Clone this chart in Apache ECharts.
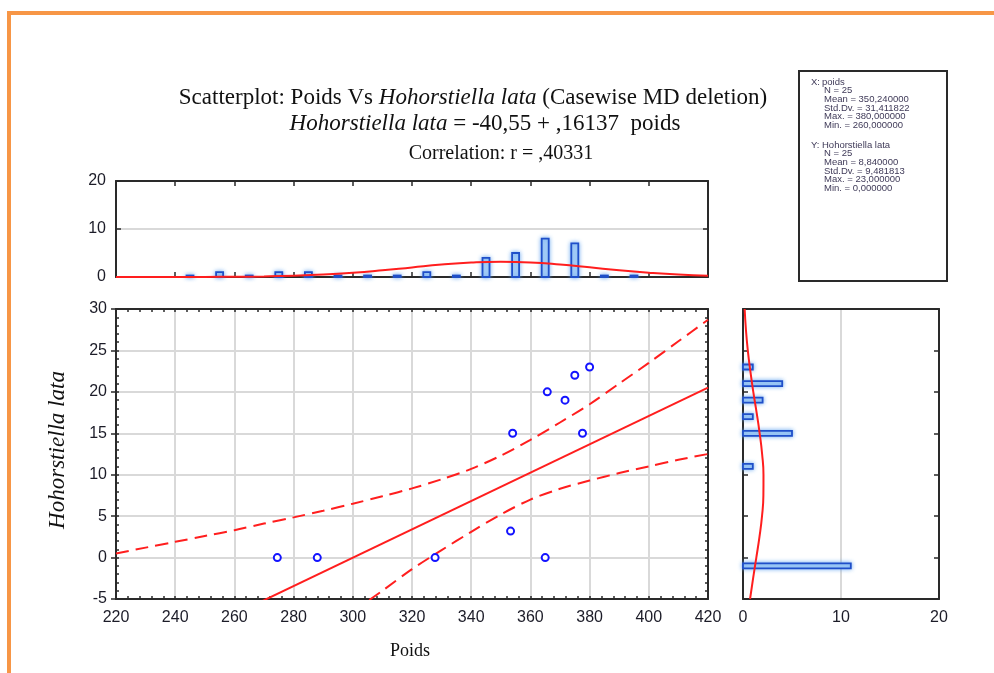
<!DOCTYPE html>
<html><head><meta charset="utf-8">
<script src="https://cdn.jsdelivr.net/npm/echarts/dist/echarts.min.js"></script>
<style>html,body{margin:0;padding:0;background:#fff}#c{width:994px;height:673px}</style>
</head><body><div id="c"></div>
<script>
// ---- data ----
const scatterX = [274.5, 288, 327.8, 353.3, 354, 365, 365.7, 371.7, 375, 377.6, 380];
const scatterY = [0, 0, 0, 3.2, 15, 0, 20, 19, 22, 15, 23];
const regX = [220, 420];
const regY = [-13.7, 20.5];
const upperX = [220, 230, 240, 250, 260, 270, 280, 290, 300, 310, 320, 330, 340, 350, 360, 370, 380, 390, 400, 410, 420];
const upperY = [0.5, 1.2, 1.9, 2.6, 3.3, 4.1, 4.85, 5.65, 6.5, 7.4, 8.35, 9.45, 10.7, 12.3, 14.2, 16.3, 18.5, 21.0, 23.5, 26.1, 28.7];
const lowerX = [300, 310, 320, 330, 340, 350, 360, 370, 380, 390, 400, 410, 420];
const lowerY = [-6.5, -4.0, -1.4, 0.9, 3.1, 5.2, 7.0, 8.3, 9.3, 10.2, 11.0, 11.8, 12.5];
const xHistBins = [245, 255, 265, 275, 285, 295, 305, 315, 325, 335, 345, 355, 365, 375, 385, 395];
const xHistCounts = [0, 1, 0, 1, 1, 0, 0, 0, 1, 0, 4, 5, 8, 7, 0, 0];
const xCurveX = [220, 230, 240, 250, 260, 270, 280, 290, 300, 310, 320, 330, 340, 350, 360, 370, 380, 390, 400, 410, 420];
const xCurveY = [0, 0, 0.01, 0.02, 0.05, 0.12, 0.26, 0.5, 0.88, 1.4, 2.0, 2.58, 3.0, 3.17, 3.03, 2.6, 2.02, 1.41, 0.91, 0.52, 0.27];
const yHistBins = [-1, 11, 15, 17, 19, 21, 23];
const yHistCounts = [11, 1, 5, 1, 2, 4, 1];
const yCurveY = [-5, -2.5, 0, 2.5, 5, 7.5, 10, 12.5, 15, 17.5, 20, 22.5, 25, 27.5, 30];
const yCurveX = [0.72, 1.03, 1.36, 1.68, 1.94, 2.08, 2.09, 1.95, 1.70, 1.39, 1.05, 0.75, 0.49, 0.30, 0.17];
const statsX = ['N = 25', 'Mean = 350,240000', 'Std.Dv. = 31,411822', 'Max. = 380,000000', 'Min. = 260,000000'];
const statsY = ['N = 25', 'Mean = 8,840000', 'Std.Dv. = 9,481813', 'Max. = 23,000000', 'Min. = 0,000000'];

// ---- styles ----
const FRAME = '#2a2a2a';
const GRIDC = '#d9d9d9';
const RED = '#ff1e1e';
const SANS = 'Liberation Sans';
const SERIF = 'Liberation Serif';
const labelStyle = {fontFamily: SANS, fontSize: 16, color: '#1c1c28'};

function frameAxis(extra) {
  return Object.assign({
    type: 'value',
    axisLine: {show: true, onZero: false, lineStyle: {color: FRAME, width: 2}},
    axisTick: {show: true, inside: true, length: 5, lineStyle: {color: FRAME, width: 1.5}},
    minorTick: {show: false},
    axisLabel: {show: false},
    splitLine: {show: false}
  }, extra);
}
const minorT = {show: true, splitNumber: 5, length: 3, lineStyle: {color: FRAME, width: 1.5}};
const innerT = {show: true, inside: true, length: 3, lineStyle: {color: FRAME, width: 1.5}};

const chart = echarts.init(document.getElementById('c'), null, {renderer: 'canvas'});

const grids = [
  {left: 116, top: 309, width: 592, height: 290},
  {left: 116, top: 181, width: 592, height: 96},
  {left: 743, top: 309, width: 196, height: 290}
];

const xAxes = [
  frameAxis({gridIndex: 0, position: 'bottom', min: 220, max: 420, interval: 20,
    axisLabel: Object.assign({show: true, margin: 11}, labelStyle),
    axisTick: innerT, minorTick: minorT,
    splitLine: {show: true, lineStyle: {color: GRIDC, width: 2}}}),
  frameAxis({gridIndex: 0, position: 'top', min: 220, max: 420, interval: 20,
    axisTick: innerT, minorTick: minorT}),
  frameAxis({gridIndex: 1, position: 'bottom', min: 220, max: 420, interval: 20}),
  frameAxis({gridIndex: 1, position: 'top', min: 220, max: 420, interval: 20}),
  frameAxis({gridIndex: 2, position: 'bottom', min: 0, max: 20, interval: 10,
    axisTick: {show: false},
    axisLabel: Object.assign({show: true, margin: 11}, labelStyle),
    splitLine: {show: true, lineStyle: {color: GRIDC, width: 2}}}),
  frameAxis({gridIndex: 2, position: 'top', min: 0, max: 20, interval: 10, axisTick: {show: false}})
];

const yAxes = [
  frameAxis({gridIndex: 0, position: 'left', min: -5, max: 30, interval: 5,
    axisTick: {show: true, inside: false, length: 5, lineStyle: {color: FRAME, width: 1.5}},
    axisLabel: Object.assign({show: true, margin: 9}, labelStyle),
    splitLine: {show: true, lineStyle: {color: GRIDC, width: 2}}}),
  frameAxis({gridIndex: 0, position: 'left', min: -5, max: 30, interval: 5, axisTick: innerT, minorTick: minorT}),
  frameAxis({gridIndex: 0, position: 'right', min: -5, max: 30, interval: 5, axisTick: innerT, minorTick: minorT}),
  frameAxis({gridIndex: 1, position: 'left', min: 0, max: 20, interval: 10,
    axisLabel: Object.assign({show: true, margin: 10}, labelStyle),
    splitLine: {show: true, lineStyle: {color: GRIDC, width: 2}}}),
  frameAxis({gridIndex: 1, position: 'right', min: 0, max: 20, interval: 10}),
  frameAxis({gridIndex: 2, position: 'left', min: -5, max: 30, interval: 5}),
  frameAxis({gridIndex: 2, position: 'right', min: -5, max: 30, interval: 5})
];

const barStyle = {fill: '#aed3f7', stroke: '#1f4fc9', lineWidth: 1.8, shadowBlur: 4, shadowColor: 'rgba(100,165,240,0.85)'};

const series = [
  {type: 'custom', xAxisIndex: 2, yAxisIndex: 3, z: 3,
    data: xHistBins.map((b, i) => [b, xHistCounts[i]]),
    renderItem: function (params, api) {
      const p0 = api.coord([api.value(0), 0]);
      const p1 = api.coord([api.value(0), api.value(1)]);
      const w = 7;
      const h = Math.max(p0[1] - p1[1], 1.5);
      return {type: 'rect', shape: {x: p0[0] - w / 2, y: p0[1] - h, width: w, height: h}, style: barStyle};
    }},
  {type: 'line', xAxisIndex: 2, yAxisIndex: 3, z: 4, smooth: true, symbol: 'none',
    data: xCurveX.map((x, i) => [x, xCurveY[i]]),
    lineStyle: {color: RED, width: 2}},
  {type: 'custom', xAxisIndex: 4, yAxisIndex: 5, z: 3,
    data: yHistBins.map((b, i) => [yHistCounts[i], b]),
    renderItem: function (params, api) {
      const p0 = api.coord([0, api.value(1)]);
      const p1 = api.coord([api.value(0), api.value(1)]);
      const h = 5;
      return {type: 'rect', shape: {x: p0[0], y: p0[1] - h / 2, width: p1[0] - p0[0], height: h}, style: barStyle};
    }},
  {type: 'line', xAxisIndex: 4, yAxisIndex: 5, z: 4, smooth: true, symbol: 'none',
    data: yCurveY.map((y, i) => [yCurveX[i], y]),
    lineStyle: {color: RED, width: 2}},
  {type: 'line', xAxisIndex: 0, yAxisIndex: 0, z: 4, symbol: 'none', clip: true,
    data: regX.map((x, i) => [x, regY[i]]),
    lineStyle: {color: RED, width: 2}},
  {type: 'line', xAxisIndex: 0, yAxisIndex: 0, z: 4, symbol: 'none', clip: true, smooth: 0.3,
    data: upperX.map((x, i) => [x, upperY[i]]),
    lineStyle: {color: RED, width: 2, type: [13, 7]}},
  {type: 'line', xAxisIndex: 0, yAxisIndex: 0, z: 4, symbol: 'none', clip: true, smooth: 0.3,
    data: lowerX.map((x, i) => [x, lowerY[i]]),
    lineStyle: {color: RED, width: 2, type: [13, 7]}},
  {type: 'scatter', xAxisIndex: 0, yAxisIndex: 0, z: 5, symbol: 'circle', symbolSize: 7,
    data: scatterX.map((x, i) => [x, scatterY[i]]),
    itemStyle: {color: '#ffffff', borderColor: '#1414ff', borderWidth: 2, opacity: 1}}
];

const statTxt = {fontFamily: SANS, fontSize: 9.5, fill: '#3f3a58'};
const richT = {
  n: {fontFamily: SERIF, fontSize: 23, fill: '#111'},
  i: {fontFamily: SERIF, fontSize: 23, fontStyle: 'italic', fill: '#111'}
};
const graphics = [
  {type: 'rect', shape: {x: 7, y: 11, width: 987, height: 4}, style: {fill: '#f79646'}},
  {type: 'rect', shape: {x: 7, y: 11, width: 4, height: 662}, style: {fill: '#f79646'}},
  {type: 'rect', shape: {x: 799, y: 71, width: 148, height: 210}, style: {fill: '#fff', stroke: FRAME, lineWidth: 2}},
  {type: 'text', x: 811, y: 82, style: Object.assign({text: 'X:', verticalAlign: 'middle'}, statTxt)},
  {type: 'text', x: 822, y: 82, style: Object.assign({text: 'poids', verticalAlign: 'middle'}, statTxt)},
  {type: 'text', x: 811, y: 145, style: Object.assign({text: 'Y:', verticalAlign: 'middle'}, statTxt)},
  {type: 'text', x: 822, y: 145, style: Object.assign({text: 'Hohorstiella lata', verticalAlign: 'middle'}, statTxt)},
  {type: 'text', x: 473, y: 98, style: {
    text: '{n|Scatterplot: Poids Vs }{i|Hohorstiella lata}{n| (Casewise MD deletion)}',
    align: 'center', verticalAlign: 'middle', rich: richT}},
  {type: 'text', x: 485, y: 124, style: {
    text: '{i|Hohorstiella lata}{n| = -40,55 + ,16137  poids}',
    align: 'center', verticalAlign: 'middle', rich: richT}},
  {type: 'text', x: 501, y: 154, style: {text: 'Correlation: r = ,40331', align: 'center', verticalAlign: 'middle',
    fontFamily: SERIF, fontSize: 20, fill: '#111'}},
  {type: 'text', x: 58, y: 450, rotation: Math.PI / 2, style: {text: 'Hohorstiella lata', align: 'center', verticalAlign: 'middle',
    fontFamily: SERIF, fontSize: 23, fontStyle: 'italic', fill: '#111'}},
  {type: 'text', x: 410, y: 651, style: {text: 'Poids', align: 'center', verticalAlign: 'middle',
    fontFamily: SERIF, fontSize: 18, fill: '#111'}}
];
statsX.forEach((t, i) => graphics.push({type: 'text', x: 824, y: 90.7 + i * 8.7, style: Object.assign({text: t, verticalAlign: 'middle'}, statTxt)}));
statsY.forEach((t, i) => graphics.push({type: 'text', x: 824, y: 153.7 + i * 8.7, style: Object.assign({text: t, verticalAlign: 'middle'}, statTxt)}));

chart.setOption({
  backgroundColor: '#ffffff',
  animation: false,
  grid: grids,
  xAxis: xAxes,
  yAxis: yAxes,
  series: series,
  graphic: graphics
});
</script></body></html>
